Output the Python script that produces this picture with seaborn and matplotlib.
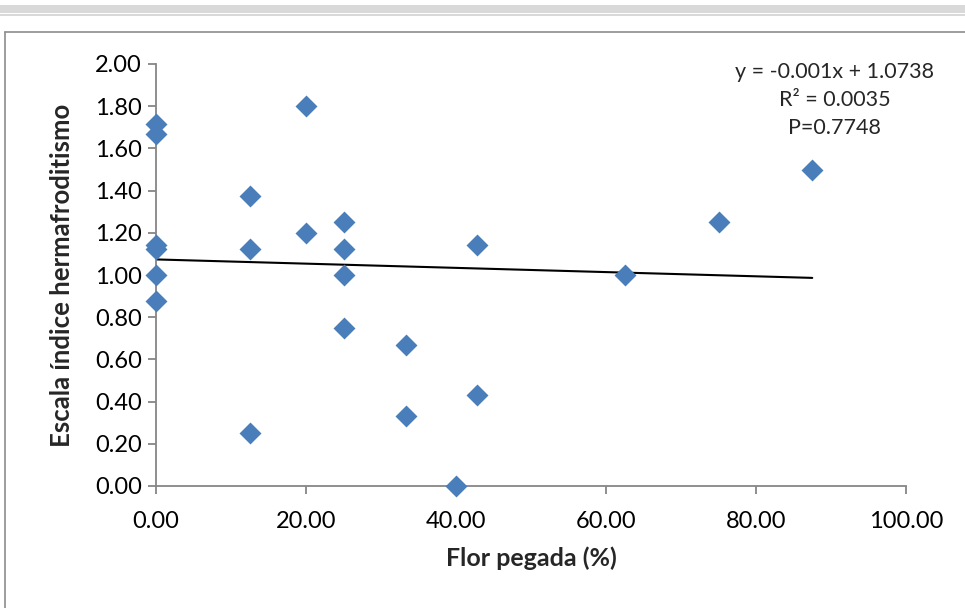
import matplotlib
matplotlib.use("Agg")
import matplotlib.pyplot as plt
from matplotlib.lines import Line2D
from matplotlib.patches import Rectangle
import numpy as np
import pandas as pd
import seaborn as sns

# ---- data ----
flor_pegada = [0, 0, 0, 0, 0, 0,
               12.5, 12.5, 12.5,
               20, 20,
               25, 25, 25, 25,
               33.33, 33.33,
               40,
               42.86, 42.86,
               62.5, 75, 87.5]
indice = [1.714, 1.667, 1.143, 1.125, 1.0, 0.875,
          1.375, 1.125, 0.25,
          1.8, 1.2,
          1.25, 1.125, 1.0, 0.75,
          0.667, 0.333,
          0.0,
          1.143, 0.429,
          1.0, 1.25, 1.5]
trend_slope = -0.001
trend_intercept = 1.0738
eq_lines = ["y = -0.001x + 1.0738", "R\u00b2 = 0.0035", "P=0.7748"]
x_ticks = [0, 20, 40, 60, 80, 100]
y_ticks = [0.0, 0.2, 0.4, 0.6, 0.8, 1.0, 1.2, 1.4, 1.6, 1.8, 2.0]
x_label = "Flor pegada (%)"
y_label = "Escala índice hermafroditismo"

df = pd.DataFrame({"x": flor_pegada, "y": indice})

sns.set_theme(style="white")
plt.rcParams["font.family"] = ["Lato", "DejaVu Sans"]

fig = plt.figure(figsize=(9.65, 6.08), dpi=100)

# outer decorations (frame like the source document)
fig.patches.append(Rectangle((0, 1 - 13/608), 1, 8/608, transform=fig.transFigure,
                             facecolor="#d9d9d9", edgecolor="none"))
fig.patches.append(Rectangle((0, 1 - 16/608), 1, 2/608, transform=fig.transFigure,
                             facecolor="#d9d9d9", edgecolor="none"))
fig.lines.append(Line2D([5/965, 5/965], [0, 1 - 32/608], transform=fig.transFigure,
                        color="#8c8c8c", lw=1.2))
fig.lines.append(Line2D([5/965, 1], [1 - 32/608, 1 - 32/608], transform=fig.transFigure,
                        color="#8c8c8c", lw=1.2))

ax = fig.add_axes([156/965, 1 - 486/608, 750/965, (486 - 64)/608])

sns.scatterplot(data=df, x="x", y="y", marker="D", s=125, color="#4a7ebb",
                linewidth=0, ax=ax, zorder=3, clip_on=False)

xs = np.array([min(flor_pegada), max(flor_pegada)])
sns.lineplot(x=xs, y=trend_intercept + trend_slope * xs, color="black", lw=1.5,
             ax=ax, zorder=2)

ax.set_xlim(0, 100)
ax.set_ylim(0, 2)
ax.set_xticks(x_ticks)
ax.set_yticks(y_ticks)
ax.set_xticklabels([f"{v:.2f}" for v in x_ticks], fontsize=17)
ax.set_yticklabels([f"{v:.2f}" for v in y_ticks], fontsize=17)
for s in ["top", "right"]:
    ax.spines[s].set_visible(False)
for s in ["left", "bottom"]:
    ax.spines[s].set_color("#868686")
    ax.spines[s].set_linewidth(1.3)
ax.tick_params(axis="both", direction="out", length=6, width=1.3, color="#868686",
               bottom=True, left=True, labelcolor="black")
ax.tick_params(axis="x", pad=12)
ax.tick_params(axis="y", pad=4)

ax.set_xlabel(x_label, fontsize=18, fontweight="bold")
ax.set_ylabel(y_label, fontsize=18.5, fontweight="bold")
ax.xaxis.set_label_coords(0.5, -0.171)
ax.yaxis.set_label_coords(-0.125, 0.5)
ax.xaxis.label.set_va("center")
ax.yaxis.label.set_va("center")

eq_y = [1.962, 1.829, 1.697]
for txt, yy in zip(eq_lines, eq_y):
    ax.text(90.5, yy, txt, ha="center", va="center", fontsize=15.5)

fig.savefig("out.png", dpi=100)
